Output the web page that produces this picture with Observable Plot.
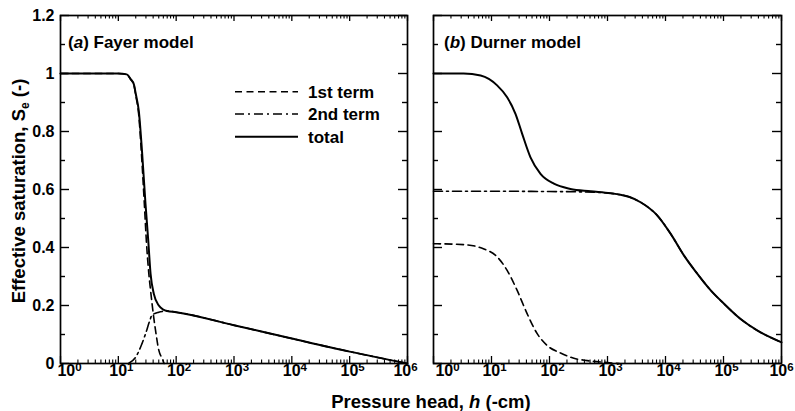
<!DOCTYPE html>
<html><head><meta charset="utf-8">
<script src="https://cdn.jsdelivr.net/npm/d3@7"></script>
<script src="https://cdn.jsdelivr.net/npm/@observablehq/plot@0.6"></script>
<style>
body{margin:0;background:#fff}
#chart{position:relative;width:795px;height:411px;font-family:"Liberation Sans",Arial,Helvetica,sans-serif;font-weight:bold}
#chart svg{position:absolute;top:0}
</style></head><body><div id="chart"></div>
<script>
// ---- (a) Fayer model ----
const fayerTotalH = [1, 10, 14, 16.2, 18.6, 20, 22.6, 25.6, 29.5, 32.9, 36.1, 41.1, 50.1, 60, 70, 100, 1e3, 1e4, 1e5, 1e6];
const fayerTotalS = [1, 1, 0.997, 0.982, 0.962, 0.93, 0.87, 0.735, 0.55, 0.424, 0.309, 0.24, 0.2, 0.186, 0.181, 0.177, 0.132, 0.086, 0.041, 0];
const fayerTerm1H = [1, 10, 14, 16.2, 18.6, 20, 22.6, 24.9, 28, 30.8, 33.7, 36.1, 40.2, 44, 50.2, 57.5, 62];
const fayerTerm1S = [1, 1, 0.997, 0.98, 0.96, 0.925, 0.855, 0.735, 0.56, 0.41, 0.309, 0.252, 0.171, 0.114, 0.045, 0.016, 0];
const fayerTerm2H = [15, 20, 24.2, 29.5, 35, 38, 50, 60, 70, 100, 1e3, 1e4, 1e5, 1e6];
const fayerTerm2S = [0, 0.022, 0.056, 0.102, 0.148, 0.166, 0.177, 0.18, 0.181, 0.177, 0.132, 0.086, 0.041, 0];

// ---- (b) Durner model ----
const durnerTotalH = [1, 3.3, 6.5, 12.5, 18.6, 25.9, 33.8, 47, 70, 119, 229, 513, 1122, 1660, 2400, 3715, 7244, 12300, 20900, 35500, 60300, 102000, 195000, 380000, 1e6];
const durnerTotalS = [1.0, 1.0, 0.993, 0.959, 0.918, 0.861, 0.792, 0.711, 0.654, 0.62, 0.602, 0.594, 0.587, 0.582, 0.574, 0.556, 0.51, 0.447, 0.372, 0.309, 0.252, 0.206, 0.154, 0.114, 0.073];
const durnerTerm1H = [1, 3.3, 7.4, 12.6, 18.6, 27.7, 41.3, 61.7, 91.2, 155, 263, 447, 1000, 1600];
const durnerTerm1S = [0.413, 0.41, 0.395, 0.367, 0.321, 0.252, 0.171, 0.102, 0.062, 0.036, 0.018, 0.01, 0.003, 0];
const durnerTerm2H = [1, 10, 100, 316, 1000, 1660, 2400, 3715, 7244, 12300, 20900, 35500, 60300, 102000, 195000, 380000, 1e6];
const durnerTerm2S = [0.594, 0.594, 0.593, 0.592, 0.588, 0.582, 0.574, 0.556, 0.51, 0.447, 0.372, 0.309, 0.252, 0.206, 0.154, 0.114, 0.073];

// ---- ticks and labels ----
const xMajor = [1, 10, 100, 1e3, 1e4, 1e5, 1e6];
const xExponents = ["0", "1", "2", "3", "4", "5", "6"];
const yMajor = [0, 0.2, 0.4, 0.6, 0.8, 1.0, 1.2];
const yLabels = ["0", "0.2", "0.4", "0.6", "0.8", "1", "1.2"];
const yMinor = [0.1, 0.3, 0.5, 0.7, 0.9, 1.1];
const seriesNames = ["1st term", "2nd term", "total"];
const panelTitles = [["a", "Fayer model"], ["b", "Durner model"]];

const xMinor = d3.scaleLog().domain([1, 1e6]).ticks().filter(v => !xMajor.includes(v));

const H = 411, MT = 15, MB = 48;
const plotH = H - MT - MB;
const FONT = '"Liberation Sans", Arial, Helvetica, sans-serif';
const dash1 = "7,4.5";
const dash2 = "9,4,2,4";

function rows(hs, ss) { return hs.map((h, i) => ({h, s: ss[i]})); }

function panel({width, marginLeft, marginRight, total, term1, term2, showY, dxFirst, dxLast}) {
  const W = width - marginLeft - marginRight;
  const lbl = xMajor.map((v, i) => ({v, e: xExponents[i]}));
  const marks = [
    Plot.line(term1, {x: "h", y: "s", stroke: "black", strokeWidth: 1.6, strokeDasharray: dash1, curve: "monotone-x"}),
    Plot.line(term2, {x: "h", y: "s", stroke: "black", strokeWidth: 1.6, strokeDasharray: dash2, curve: "monotone-x"}),
    Plot.line(total, {x: "h", y: "s", stroke: "black", strokeWidth: 2, curve: "monotone-x"}),
    // x ticks, inward, bottom and top
    Plot.ruleX(xMajor, {x: d => d, insetTop: plotH - 7, strokeWidth: 1.3}),
    Plot.ruleX(xMinor, {x: d => d, insetTop: plotH - 3.5, strokeWidth: 1.1}),
    Plot.ruleX(xMajor, {x: d => d, insetBottom: plotH - 6, strokeWidth: 1.3}),
    Plot.ruleX(xMinor, {x: d => d, insetBottom: plotH - 3.5, strokeWidth: 1.1}),
    // y ticks, inward, left and right
    Plot.ruleY(yMajor, {y: d => d, insetRight: W - 9, strokeWidth: 1.4}),
    Plot.ruleY(yMinor, {y: d => d, insetRight: W - 5, strokeWidth: 1.4}),
    Plot.ruleY(yMajor, {y: d => d, insetLeft: W - 9, strokeWidth: 1.4}),
    Plot.ruleY(yMinor, {y: d => d, insetLeft: W - 5, strokeWidth: 1.4}),
    Plot.frame({stroke: "black", strokeWidth: 1.7}),
    // x tick labels
    Plot.text(lbl.slice(1, -1), {x: "v", text: "e", frameAnchor: "bottom", lineAnchor: "top", dy: 1.5, dx: 3, className: "xlab"}),
    Plot.text(lbl.slice(0, 1), {x: "v", text: "e", frameAnchor: "bottom", lineAnchor: "top", dy: 1.5, dx: dxFirst, className: "xlab"}),
    Plot.text(lbl.slice(-1), {x: "v", text: "e", frameAnchor: "bottom", lineAnchor: "top", dy: 1.5, dx: dxLast, className: "xlab"})
  ];
  if (showY) {
    marks.push(Plot.text(yMajor, {y: d => d, text: (d, i) => yLabels[i], frameAnchor: "left", textAnchor: "end", dx: -6}));
  }
  const svg = Plot.plot({
    width, height: H, marginTop: MT, marginBottom: MB, marginLeft, marginRight,
    x: {type: "log", domain: [1, 1e6], axis: null},
    y: {domain: [0, 1.2], axis: null},
    style: {fontFamily: FONT, fontSize: "16px", fontWeight: "bold", color: "black", background: "transparent", overflow: "visible"},
    marks
  });
  // turn exponent into "10" + superscript
  svg.querySelectorAll(".xlab text").forEach(t => {
    const k = t.textContent;
    t.textContent = "10";
    const ts = document.createElementNS("http://www.w3.org/2000/svg", "tspan");
    ts.setAttribute("dy", "-5.5");
    ts.setAttribute("font-size", "11.5");
    ts.textContent = k;
    t.appendChild(ts);
  });
  return svg;
}

const chart = document.getElementById("chart");
const left = panel({width: 420, marginLeft: 60, marginRight: 13,
  total: rows(fayerTotalH, fayerTotalS), term1: rows(fayerTerm1H, fayerTerm1S), term2: rows(fayerTerm2H, fayerTerm2S),
  showY: true, dxFirst: 9, dxLast: -2});
left.style.left = "0px";
const right = panel({width: 375, marginLeft: 13, marginRight: 14,
  total: rows(durnerTotalH, durnerTotalS), term1: rows(durnerTerm1H, durnerTerm1S), term2: rows(durnerTerm2H, durnerTerm2S),
  showY: false, dxFirst: 14, dxLast: 0});
right.style.left = "420px";
chart.appendChild(left);
chart.appendChild(right);

// overlay: axis titles, panel labels, legend
const ov = d3.select(chart).append("svg").attr("width", 795).attr("height", 411)
  .style("left", "0px").style("pointer-events", "none")
  .attr("font-family", FONT).attr("font-weight", "bold").attr("fill", "black");

const yt = ov.append("text").attr("transform", "translate(25,191) rotate(-90)").attr("text-anchor", "middle").attr("font-size", 18.5);
yt.append("tspan").text("Effective saturation, S");
yt.append("tspan").attr("font-size", 12).attr("dy", 4).text("e");
yt.append("tspan").attr("dy", -4).text(" (-)");

const xt = ov.append("text").attr("x", 431).attr("y", 408).attr("text-anchor", "middle").attr("font-size", 18.5);
xt.append("tspan").text("Pressure head, ");
xt.append("tspan").attr("font-style", "italic").text("h");
xt.append("tspan").text(" (-cm)");

[[68, panelTitles[0]], [444, panelTitles[1]]].forEach(([x, [letter, name]]) => {
  const t = ov.append("text").attr("x", x).attr("y", 47.5).attr("font-size", 17);
  t.append("tspan").text("(");
  t.append("tspan").attr("font-style", "italic").text(letter);
  t.append("tspan").text(") " + name);
});

const legendY = [91.7, 114, 136.7];
const legendDash = [dash1, dash2, null];
seriesNames.forEach((name, i) => {
  ov.append("line").attr("x1", 235).attr("x2", 298).attr("y1", legendY[i]).attr("y2", legendY[i])
    .attr("stroke", "black").attr("stroke-width", i === 2 ? 2 : 1.6)
    .attr("stroke-dasharray", legendDash[i]);
  ov.append("text").attr("x", 308).attr("y", legendY[i] + 6).attr("font-size", 17).text(name);
});
</script>
</body></html>
